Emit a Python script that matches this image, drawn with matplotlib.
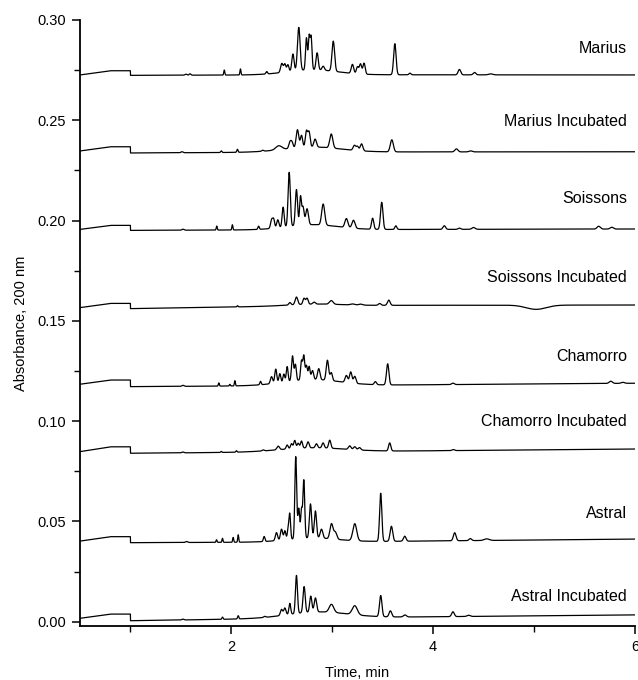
import numpy as np
import matplotlib
matplotlib.use("Agg")
import matplotlib.pyplot as plt
from matplotlib.ticker import MultipleLocator

plt.rcParams['font.family'] = ['Liberation Sans', 'DejaVu Sans']

# ---------------- data ----------------
labels = ["Marius", "Marius Incubated", "Soissons", "Soissons Incubated",
          "Chamorro", "Chamorro Incubated", "Astral", "Astral Incubated"]

# baseline knots (min) and per-trace baseline absorbance at these knots
base_t = [0.5, 0.8, 1.0, 1.0001, 3.0, 6.0]
base_marius = [0.2726, 0.2747, 0.2747, 0.2724, 0.2727, 0.2726]
base_marius_inc = [0.2347, 0.2368, 0.2368, 0.2337, 0.2342, 0.2343]
base_soissons = [0.1956, 0.1976, 0.1976, 0.1951, 0.1955, 0.1958]
base_soissons_inc = [0.1566, 0.1587, 0.1587, 0.1561, 0.1577, 0.1579]
base_chamorro = [0.1184, 0.1205, 0.1205, 0.1172, 0.1178, 0.1189]
base_chamorro_inc = [0.0848, 0.0872, 0.0872, 0.0840, 0.0848, 0.0861]
base_astral = [0.0402, 0.0424, 0.0424, 0.0394, 0.0398, 0.0412]
base_astral_inc = [0.0017, 0.0038, 0.0038, 0.0005, 0.0020, 0.0034]

# peak tables: retention time (min), height (AU), width (min)
marius_t = [1.55, 1.59, 1.93, 2.09, 2.35, 2.50, 2.53, 2.56, 2.61, 2.668, 2.744, 2.77, 2.79, 2.85, 2.91,
            3.01, 3.20, 3.25, 3.28, 3.315, 3.62, 3.77, 4.26, 4.41, 4.57, 2.80]
marius_h = [0.0005, 0.0007, 0.0025, 0.0030, 0.0012, 0.0045, 0.0040, 0.0035, 0.0085, 0.0215, 0.0160, 0.0160,
            0.0165, 0.0085, 0.0020, 0.0150, 0.0045, 0.0035, 0.0050, 0.0055, 0.0155, 0.0008, 0.0027, 0.0012,
            0.0005, 0.0025]
marius_w = [0.01, 0.008, 0.005, 0.005, 0.008, 0.012, 0.01, 0.01, 0.011, 0.013, 0.009, 0.008, 0.009, 0.011,
            0.012, 0.013, 0.012, 0.011, 0.011, 0.011, 0.012, 0.01, 0.013, 0.013, 0.02, 0.25]

marius_inc_t = [1.51, 1.90, 2.06, 2.31, 2.47, 2.58, 2.60, 2.655, 2.695, 2.744, 2.77, 2.83, 2.99, 3.22, 3.25,
                3.29, 3.59, 4.23, 4.37, 2.80]
marius_inc_h = [0.0005, 0.0008, 0.0015, 0.0005, 0.0020, 0.0030, 0.0030, 0.0090, 0.0060, 0.0080, 0.0075,
                0.0040, 0.0070, 0.0025, 0.0020, 0.0035, 0.0060, 0.0015, 0.0005, 0.0025]
marius_inc_w = [0.01, 0.006, 0.006, 0.01, 0.03, 0.011, 0.011, 0.013, 0.011, 0.011, 0.011, 0.013, 0.015,
                0.013, 0.011, 0.013, 0.015, 0.015, 0.015, 0.28]

soissons_t = [1.52, 1.855, 2.01, 2.27, 2.40, 2.42, 2.46, 2.513, 2.573, 2.645, 2.685, 2.71, 2.75, 2.91, 3.14,
              3.21, 3.40, 3.49, 3.63, 4.11, 4.26, 4.40, 5.64, 5.77, 2.80]
soissons_h = [0.0005, 0.0020, 0.0026, 0.0016, 0.0045, 0.0040, 0.0040, 0.0100, 0.0270, 0.0180, 0.0140,
              0.0090, 0.0080, 0.0105, 0.0045, 0.0040, 0.0055, 0.0135, 0.0018, 0.0018, 0.0006, 0.0009,
              0.0014, 0.0009, 0.0025]
soissons_w = [0.01, 0.005, 0.005, 0.007, 0.011, 0.009, 0.011, 0.010, 0.011, 0.011, 0.009, 0.011, 0.013,
              0.015, 0.015, 0.015, 0.011, 0.012, 0.01, 0.013, 0.013, 0.016, 0.016, 0.016, 0.25]

soissons_inc_t = [2.06, 2.58, 2.645, 2.72, 2.75, 2.82, 2.99, 3.20, 3.28, 3.47, 3.56, 5.02, 2.80]
soissons_inc_h = [0.0006, 0.0012, 0.0038, 0.0030, 0.0030, 0.0010, 0.0018, 0.0005, 0.0005, 0.0009, 0.0026,
                  -0.0021, 0.0008]
soissons_inc_w = [0.006, 0.011, 0.013, 0.011, 0.011, 0.013, 0.018, 0.02, 0.02, 0.013, 0.013, 0.10, 0.25]

chamorro_t = [1.52, 1.876, 1.985, 2.035, 2.289, 2.398, 2.44, 2.48, 2.52, 2.553, 2.606, 2.635, 2.695, 2.718,
              2.744, 2.771, 2.804, 2.866, 2.952, 2.99, 3.14, 3.183, 3.223, 3.427, 3.549, 4.196, 5.76, 5.88,
              2.80]
chamorro_h = [0.0005, 0.0016, 0.0008, 0.0026, 0.0017, 0.0035, 0.0070, 0.0045, 0.0040, 0.0075, 0.0125,
              0.0080, 0.0095, 0.0120, 0.0070, 0.0065, 0.0045, 0.0055, 0.0100, 0.0040, 0.0035, 0.0055,
              0.0035, 0.0015, 0.0105, 0.0007, 0.0011, 0.0005, 0.0030]
chamorro_w = [0.01, 0.005, 0.005, 0.005, 0.007, 0.011, 0.010, 0.009, 0.009, 0.009, 0.010, 0.009, 0.009,
              0.009, 0.009, 0.009, 0.011, 0.012, 0.012, 0.011, 0.013, 0.012, 0.012, 0.011, 0.012, 0.013,
              0.016, 0.016, 0.28]

chamorro_inc_t = [1.52, 1.90, 2.05, 2.315, 2.464, 2.553, 2.596, 2.628, 2.662, 2.695, 2.76, 2.843, 2.909,
                  2.975, 3.173, 3.223, 3.27, 3.569, 4.20, 2.80]
chamorro_inc_h = [0.0004, 0.0005, 0.0007, 0.0005, 0.0018, 0.0020, 0.0025, 0.0040, 0.0025, 0.0035, 0.0030,
                  0.0020, 0.0025, 0.0040, 0.0018, 0.0015, 0.0012, 0.0040, 0.0005, 0.0020]
chamorro_inc_w = [0.01, 0.006, 0.006, 0.01, 0.013, 0.010, 0.010, 0.010, 0.010, 0.010, 0.011, 0.011, 0.011,
                  0.011, 0.013, 0.013, 0.013, 0.011, 0.013, 0.32]

astral_t = [1.556, 1.853, 1.912, 2.018, 2.068, 2.325, 2.447, 2.497, 2.53, 2.563, 2.579, 2.638, 2.668, 2.695,
            2.718, 2.784, 2.833, 2.893, 2.992, 3.03, 3.223, 3.48, 3.586, 3.718, 4.213, 4.368, 4.53, 2.80]
astral_h = [0.0005, 0.0013, 0.0020, 0.0024, 0.0037, 0.0025, 0.0040, 0.0055, 0.0045, 0.0050, 0.0120, 0.0410,
            0.0150, 0.0140, 0.0290, 0.0170, 0.0135, 0.0045, 0.0075, 0.0035, 0.0085, 0.0240, 0.0075, 0.0025,
            0.0040, 0.0010, 0.0008, 0.0020]
astral_w = [0.01, 0.005, 0.005, 0.005, 0.005, 0.008, 0.011, 0.011, 0.009, 0.009, 0.008, 0.009, 0.009, 0.008,
            0.009, 0.011, 0.011, 0.013, 0.015, 0.015, 0.019, 0.011, 0.013, 0.013, 0.013, 0.013, 0.025, 0.25]

astral_inc_t = [1.52, 1.912, 2.068, 2.33, 2.497, 2.53, 2.579, 2.645, 2.721, 2.787, 2.833, 2.992, 3.223, 3.48,
                3.576, 3.72, 4.196, 4.35, 2.85]
astral_inc_h = [0.0004, 0.0011, 0.0016, 0.0005, 0.0030, 0.0035, 0.0055, 0.0190, 0.0130, 0.0080, 0.0070,
                0.0040, 0.0045, 0.0105, 0.0030, 0.0010, 0.0024, 0.0006, 0.0030]
astral_inc_w = [0.01, 0.006, 0.006, 0.01, 0.011, 0.011, 0.009, 0.010, 0.011, 0.011, 0.012, 0.022, 0.025,
                0.012, 0.013, 0.015, 0.013, 0.015, 0.30]

label_y = [0.286, 0.2493, 0.2108, 0.1717, 0.1321, 0.0997, 0.0540, 0.0125]

traces = [
    (base_marius, marius_t, marius_h, marius_w),
    (base_marius_inc, marius_inc_t, marius_inc_h, marius_inc_w),
    (base_soissons, soissons_t, soissons_h, soissons_w),
    (base_soissons_inc, soissons_inc_t, soissons_inc_h, soissons_inc_w),
    (base_chamorro, chamorro_t, chamorro_h, chamorro_w),
    (base_chamorro_inc, chamorro_inc_t, chamorro_inc_h, chamorro_inc_w),
    (base_astral, astral_t, astral_h, astral_w),
    (base_astral_inc, astral_inc_t, astral_inc_h, astral_inc_w),
]

# ---------------- plot ----------------
fig = plt.figure(figsize=(6.38, 6.80), dpi=100)
ax = fig.add_axes([0.1254, 0.0794, 0.8699, 0.8912])

t = np.linspace(0.5, 6.0, 4000)
for (base, pt, ph, pw), lab, ly in zip(traces, labels, label_y):
    y = np.interp(t, base_t, base)
    for c, h, w in zip(pt, ph, pw):
        y = y + h * np.exp(-0.5 * ((t - c) / w) ** 2)
    ax.plot(t, y, color='black', lw=0.9)
    ax.text(5.92, ly, lab, ha='right', va='center', fontsize=11.5)

ax.set_xlim(0.5, 6.0)
ax.set_ylim(-0.00214, 0.30)
ax.spines['top'].set_visible(False)
ax.spines['right'].set_visible(False)
ax.spines['left'].set_linewidth(1.3)
ax.spines['bottom'].set_linewidth(1.3)

ax.xaxis.set_major_locator(MultipleLocator(2))
ax.xaxis.set_minor_locator(MultipleLocator(1))
ax.yaxis.set_major_locator(MultipleLocator(0.05))
ax.yaxis.set_minor_locator(MultipleLocator(0.025))
ax.tick_params(which='major', direction='out', length=6, width=1.1, labelsize=10.5, pad=4)
ax.tick_params(which='minor', direction='out', length=4, width=1.0)
ax.yaxis.set_major_formatter(matplotlib.ticker.FormatStrFormatter('%.2f'))
ax.xaxis.set_major_formatter(matplotlib.ticker.FormatStrFormatter('%d'))

ax.set_xlabel("Time, min", fontsize=10.5, labelpad=9)
ax.set_ylabel("Absorbance, 200 nm", fontsize=10.5, labelpad=7)

fig.savefig("out.png", dpi=100)
